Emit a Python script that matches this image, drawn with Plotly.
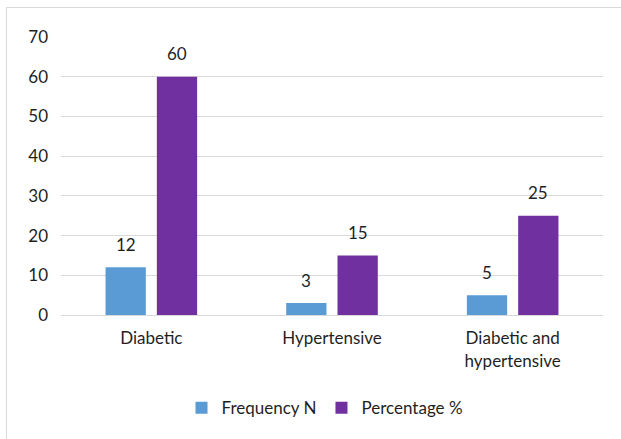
import plotly.graph_objects as go

categories = ["Diabetic", "Hypertensive", "Diabetic and<br>hypertensive"]
frequency_n = [12, 3, 5]
percentage = [60, 15, 25]
series_names = ["Frequency N", "Percentage %"]
y_ticks = [0, 10, 20, 30, 40, 50, 60, 70]

BLUE = "#5B9BD5"
PURPLE = "#7030A0"
TXT = "#1f1f1f"
FONT = "Lato"
FS = 17

W, H = 621, 439
L, R, T, B = 61, 18, 37, 124

fig = go.Figure()
fig.add_trace(go.Bar(x=categories, y=frequency_n, name=series_names[0],
                     marker=dict(color=BLUE, line=dict(width=0))))
fig.add_trace(go.Bar(x=categories, y=percentage, name=series_names[1],
                     marker=dict(color=PURPLE, line=dict(width=0))))

annotations = []
for vals, shift in ((frequency_n, -25.6), (percentage, 25.6)):
    for c, v in zip(categories, vals):
        annotations.append(dict(x=c, y=v, xref="x", yref="y", text=str(v),
                                showarrow=False, xshift=shift, yshift=23,
                                yanchor="middle",
                                font=dict(family=FONT, size=FS, color=TXT)))

pw = W - L - R
ph = H - T - B
shapes = [dict(type="rect", xref="paper", yref="paper",
               x0=(6.5 - L) / pw, x1=(W + 10 - L) / pw,
               y0=-(H + 10 - T - ph) / ph, y1=(ph + T - 7.5) / ph,
               line=dict(color="#D9D9D9", width=1), layer="below")]

fig.update_layout(
    width=W, height=H,
    margin=dict(l=L, r=R, t=T, b=B, autoexpand=False),
    paper_bgcolor="white", plot_bgcolor="white",
    barmode="group", bargap=0.432, bargroupgap=0.215,
    font=dict(family=FONT, size=FS, color=TXT),
    showlegend=True,
    legend=dict(orientation="h", x=(325 - L) / pw, xanchor="center", y=-0.335, yanchor="middle",
                font=dict(family=FONT, size=FS, color=TXT),
                itemwidth=30, traceorder="normal"),
    annotations=annotations,
    shapes=shapes,
    yaxis=dict(range=[0, 70], tickvals=y_ticks, showgrid=True, gridcolor="#D9D9D9",
               gridwidth=1, zeroline=False, showline=False, ticks="", automargin=False,
               ticklabelstandoff=12, tickfont=dict(family=FONT, size=FS, color=TXT)),
    xaxis=dict(showline=True, linecolor="#D9D9D9", linewidth=1, ticks="", automargin=False,
               ticklabelstandoff=8, tickfont=dict(family=FONT, size=FS, color=TXT)),
)

fig.write_html("out.html", config={"displayModeBar": False},
               post_script="document.body.style.margin='0';document.body.style.overflow='hidden';")
